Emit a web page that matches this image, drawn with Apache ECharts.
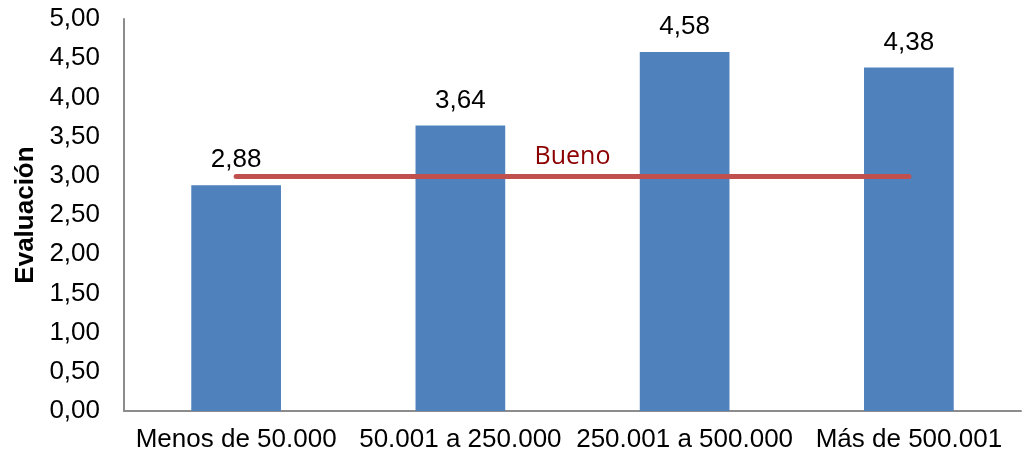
<!DOCTYPE html>
<html>
<head>
<meta charset="utf-8">
<script src="https://cdn.jsdelivr.net/npm/echarts@6/dist/echarts.min.js"></script>
<style>
  html, body { margin: 0; padding: 0; background: #ffffff; }
  #chart { width: 1022px; height: 457px; }
</style>
</head>
<body>
<div id="chart"></div>
<script>
// Population ranges and their average evaluation
const categories = ['Menos de 50.000', '50.001 a 250.000', '250.001 a 500.000', 'Más de 500.001'];
const evaluation = [2.88, 3.64, 4.58, 4.38];

// Reference level drawn across the bars
const referenceLevel = 3.0;
const referenceLabel = 'Bueno';

// Value axis range
const yMin = 0;
const yMax = 5;
const yStep = 0.5;

const fmt = v => v.toFixed(2).replace('.', ',');

const chart = echarts.init(document.getElementById('chart'));
chart.setOption({
  animation: false,
  backgroundColor: '#ffffff',
  grid: { left: 124, right: 1, top: 19, bottom: 46, containLabel: false },
  xAxis: {
    type: 'category',
    data: categories,
    axisLine: { lineStyle: { color: '#8c8c8c', width: 2 } },
    axisTick: { show: false },
    axisLabel: {
      interval: 0, hideOverlap: false,
      color: '#000000', fontFamily: 'Liberation Sans, Arial', fontSize: 26, margin: 16
    }
  },
  yAxis: {
    type: 'value',
    min: yMin, max: yMax, interval: yStep,
    name: 'Evaluación',
    nameLocation: 'middle',
    nameGap: 76,
    nameTextStyle: {
      color: '#000000', fontFamily: 'Liberation Sans, Arial', fontSize: 26, fontWeight: 'bold'
    },
    axisLine: { show: true, lineStyle: { color: '#8c8c8c', width: 2 } },
    axisTick: { show: false },
    splitLine: { show: false },
    axisLabel: {
      color: '#000000', fontFamily: 'Liberation Sans, Arial', fontSize: 26, margin: 24,
      formatter: fmt
    }
  },
  series: [{
    type: 'bar',
    data: evaluation,
    barWidth: '40%',
    itemStyle: { color: '#4F81BD' },
    label: {
      show: true, position: 'top', distance: 12,
      color: '#000000', fontFamily: 'Liberation Sans, Arial', fontSize: 26,
      formatter: p => fmt(p.value)
    },
    markLine: {
      silent: true,
      symbol: ['none', 'none'],
      lineStyle: { color: '#C0504D', width: 5, type: 'solid', cap: 'round' },
      label: {
        show: true, position: 'insideMiddleTop', distance: 6,
        formatter: referenceLabel,
        color: '#8B0000', fontFamily: 'Open Sans', fontSize: 25
      },
      data: [[
        { coord: [0, referenceLevel] },
        { coord: [categories.length - 1, referenceLevel] }
      ]]
    }
  }]
});
</script>
</body>
</html>
